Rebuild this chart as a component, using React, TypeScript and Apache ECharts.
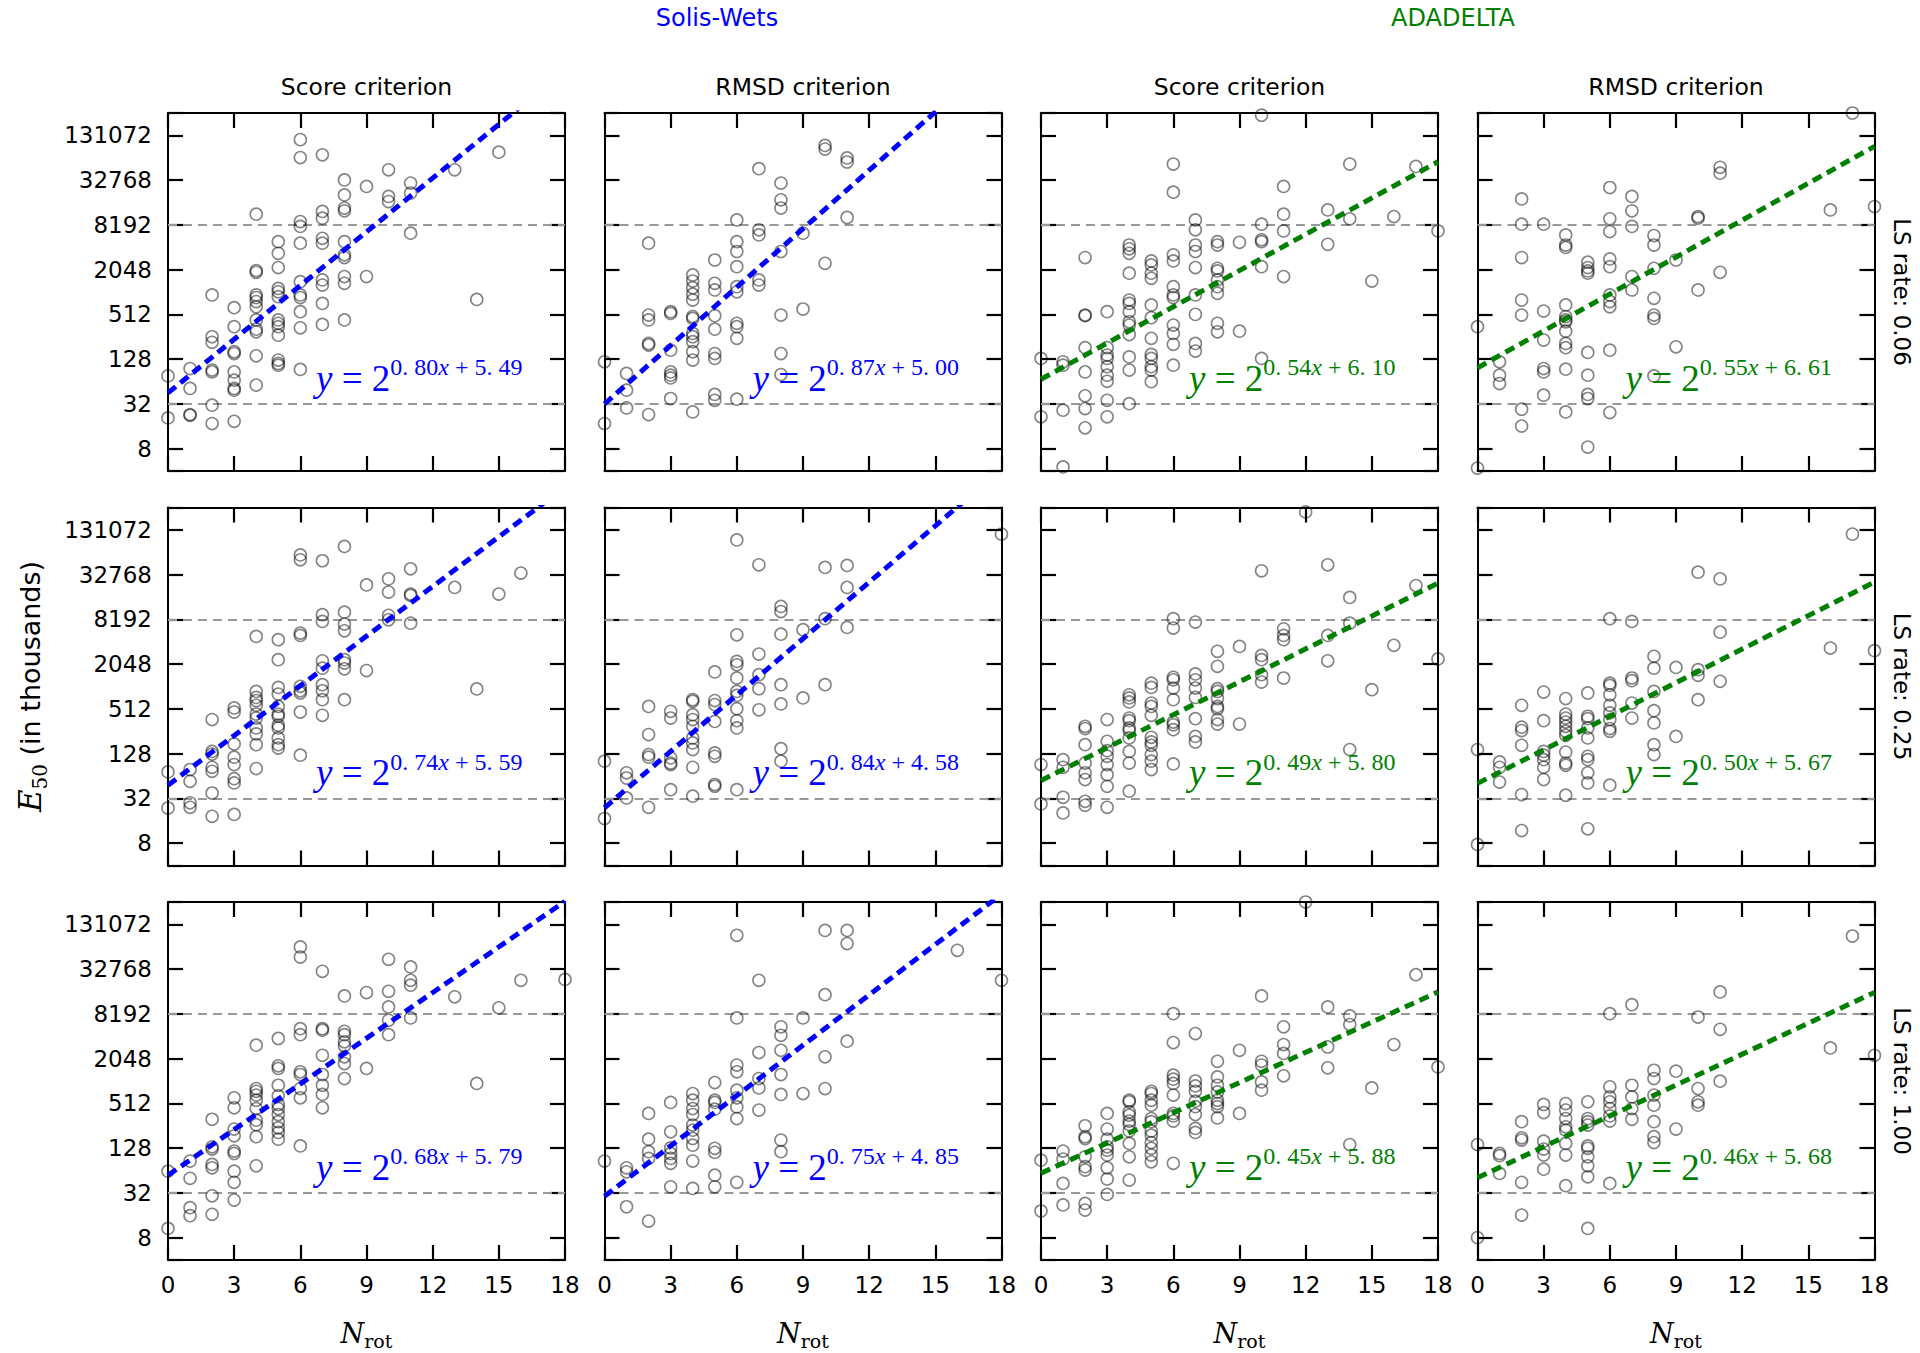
import React, { useEffect, useRef } from "react";
import * as echarts from "echarts";

// ---------- labels ----------
const methods = ["Solis-Wets", "ADADELTA"];
const methodColors = ["#0000ff", "#008000"];
const criteria = ["Score criterion", "RMSD criterion", "Score criterion", "RMSD criterion"];
const lsRates = ["LS rate: 0.06", "LS rate: 0.25", "LS rate: 1.00"];
const nrotTicks = [0, 3, 6, 9, 12, 15, 18];
const yTickLabels = [8, 32, 128, 512, 2048, 8192, 32768, 131072];
const refThresholds = [32, 8192];

// ---------- data: log2(E50 in thousands), indexed by N_rot (0..18) ----------
const swScore006 = [
  [6.25, 4.37], [6.58, 5.69, 4.49, 4.52], [9.87, 8.0, 7.75, 6.51, 6.43, 4.94, 4.12],
  [9.3, 8.45, 7.33, 7.25, 6.43, 6.06, 5.69, 5.61, 4.22],
  [13.48, 10.96, 10.88, 9.87, 9.75, 9.57, 9.34, 8.75, 8.34, 8.22, 7.15, 5.84],
  [12.25, 11.73, 11.09, 10.16, 10.01, 9.79, 8.75, 8.6, 8.45, 8.07, 6.96, 6.81, 6.73],
  [16.81, 16.01, 13.15, 12.93, 12.18, 10.46, 9.87, 9.75, 9.12, 8.4, 6.54],
  [16.13, 13.6, 13.3, 12.4, 12.18, 10.54, 10.31, 9.49, 8.55],
  [15.01, 14.34, 13.75, 13.63, 12.25, 11.66, 11.54, 10.69, 10.39, 8.75],
  [14.72, 10.69], [15.46, 14.27, 14.04], [14.87, 14.42, 12.63], [], [15.46], [9.67], [16.25], [], [], [],
];
const swRmsd006 = [
  [6.88, 4.12], [6.36, 5.61, 4.82], [12.18, 8.97, 8.75, 7.7, 7.63, 4.52],
  [9.12, 9.04, 7.4, 6.43, 6.28, 6.16, 5.24],
  [10.76, 10.49, 10.19, 9.9, 9.64, 8.9, 8.82, 8.15, 8.0, 7.78, 7.33, 6.96, 4.64],
  [11.43, 10.39, 10.09, 8.94, 8.34, 7.25, 7.03, 5.42, 5.16],
  [13.22, 12.25, 11.81, 11.13, 10.24, 10.01, 8.6, 8.45, 7.93, 5.21],
  [15.51, 12.78, 12.55, 10.54, 10.31],
  [14.87, 14.12, 13.75, 11.81, 8.97, 7.25, 6.31],
  [12.63, 9.24], [16.55, 16.39, 11.28], [15.99, 15.81, 13.33], [], [], [], [], [], [], [],
];
const adScore006 = [
  [7.03, 4.42], [6.88, 6.73, 4.72, 2.18], [11.54, 8.97, 8.94, 7.51, 6.43, 5.36, 4.79, 3.93],
  [9.12, 7.51, 7.18, 7.03, 6.66, 6.28, 6.01, 5.16, 4.42],
  [12.1, 11.93, 11.73, 10.84, 9.64, 9.49, 9.12, 8.67, 8.52, 8.1, 7.1, 6.51, 5.01],
  [11.39, 11.21, 10.84, 10.61, 9.42, 8.85, 7.93, 7.21, 7.03, 6.66, 6.51, 5.99],
  [15.72, 14.46, 11.66, 11.39, 10.24, 9.87, 9.75, 8.52, 8.15, 7.66, 6.73],
  [13.22, 12.78, 12.1, 11.81, 11.09, 9.87, 9.0, 7.7, 7.36],
  [12.25, 12.1, 11.06, 10.94, 10.54, 10.24, 9.94, 8.6, 8.22],
  [12.22, 8.25], [17.9, 13.03, 12.33, 12.25, 11.13, 7.03], [14.72, 13.48, 12.73, 10.69], [],
  [13.67, 12.13], [15.72, 13.27], [10.49], [13.37], [15.61], [12.73],
];
const adRmsd006 = [
  [8.45, 2.13], [6.88, 6.28, 5.91], [14.16, 13.03, 11.54, 9.64, 8.97, 4.76, 4.01],
  [13.03, 9.15, 7.85, 6.58, 6.43, 5.39],
  [12.55, 12.1, 11.99, 9.42, 8.9, 8.75, 8.67, 8.25, 7.7, 7.51, 6.55, 4.64],
  [11.33, 11.09, 10.94, 10.84, 7.3, 6.28, 5.42, 5.24, 3.07],
  [14.67, 13.27, 12.7, 11.48, 11.13, 9.87, 9.57, 9.34, 7.4, 4.61],
  [14.27, 13.63, 12.93, 10.69, 10.09],
  [12.52, 12.1, 11.06, 9.72, 8.97, 8.82, 6.25],
  [11.43, 7.55], [13.37, 13.3, 10.09], [15.57, 15.31, 10.88], [], [], [], [], [13.67], [18.0], [13.82],
];
const swScore025 = [
  [6.18, 4.57], [6.29, 5.76, 4.8, 4.6], [8.52, 7.1, 6.98, 6.39, 6.21, 5.24, 4.2],
  [9.04, 8.86, 7.43, 6.84, 6.51, 5.88, 5.69, 4.28],
  [12.24, 9.78, 9.51, 9.37, 9.16, 8.77, 8.59, 8.15, 7.88, 7.4, 6.33],
  [12.09, 11.2, 9.96, 9.66, 9.11, 8.77, 8.67, 8.27, 8.15, 7.7, 7.4, 7.25],
  [15.88, 15.66, 12.39, 12.28, 10.01, 9.81, 9.71, 8.86, 6.93],
  [15.62, 13.21, 12.91, 11.15, 10.82, 10.08, 9.81, 9.41, 8.71],
  [16.26, 13.32, 12.79, 12.49, 11.2, 11.05, 10.79, 9.41],
  [14.54, 10.71], [14.81, 14.22, 13.18, 12.98], [15.26, 14.13, 14.07, 12.83], [],
  [14.43], [9.89], [14.13], [15.07], [], [],
];
const swRmsd025 = [
  [6.66, 4.1], [6.14, 5.91, 5.02], [9.11, 7.85, 6.96, 6.84, 4.6],
  [8.89, 8.59, 6.81, 6.58, 6.51, 5.39],
  [9.41, 9.34, 8.74, 8.52, 8.22, 7.7, 7.48, 7.18, 6.39, 5.1],
  [10.65, 9.37, 9.19, 8.44, 7.03, 6.88, 5.62, 5.54],
  [16.55, 12.31, 11.12, 10.97, 10.38, 9.78, 9.6, 9.01, 8.47, 8.15, 5.39],
  [15.44, 11.45, 10.53, 9.9, 8.96],
  [13.58, 13.35, 12.34, 10.08, 9.22, 7.22, 6.66],
  [12.54, 9.49], [15.32, 13.03, 10.08], [15.41, 14.43, 12.64], [], [], [], [], [], [], [16.81],
];
const adScore025 = [
  [6.51, 4.75], [6.73, 6.39, 5.05, 4.35], [8.22, 8.12, 7.4, 6.58, 6.14, 5.84, 4.87, 4.69],
  [8.52, 7.55, 7.13, 6.88, 6.51, 6.06, 5.54, 4.6],
  [9.63, 9.49, 9.31, 8.59, 8.47, 8.15, 8.03, 7.7, 7.1, 6.58, 5.32],
  [10.15, 9.96, 9.26, 9.11, 8.71, 7.73, 7.52, 7.37, 6.96, 6.66, 6.29],
  [13.03, 12.61, 10.41, 10.3, 9.93, 9.41, 8.41, 8.29, 8.07, 6.54],
  [12.88, 10.56, 10.3, 9.93, 9.51, 8.56, 7.77, 7.52],
  [11.57, 10.9, 9.9, 9.78, 9.46, 9.11, 9.01, 8.52, 8.32],
  [11.79, 8.32], [15.17, 11.39, 11.2, 10.53, 10.2], [12.58, 12.28, 12.09, 10.38], [17.8],
  [15.44, 12.28, 11.15], [13.98, 12.83, 7.18], [9.86], [11.84], [14.51], [11.23],
];
const adRmsd025 = [
  [7.18, 2.94], [6.63, 6.39, 5.73], [9.16, 8.18, 8.03, 7.37, 5.17, 3.56],
  [9.75, 8.47, 7.1, 6.93, 6.73, 6.39, 5.84],
  [9.46, 8.77, 8.59, 8.41, 8.22, 8.0, 7.82, 7.07, 6.58, 6.48, 5.14],
  [9.71, 8.67, 8.56, 8.15, 7.7, 6.88, 6.73, 6.14, 5.69, 3.64],
  [13.03, 10.15, 10.05, 9.63, 9.16, 8.82, 8.52, 8.12, 8.0, 5.59],
  [12.91, 10.38, 10.26, 9.26, 8.59],
  [11.35, 10.82, 9.78, 8.92, 8.37, 7.4, 6.96],
  [10.85, 7.77], [15.11, 10.75, 10.5, 9.41], [14.81, 12.43, 10.23], [], [], [], [], [11.72], [16.81], [11.6],
];
const swScore100 = [
  [5.97, 3.41], [6.42, 5.65, 4.34, 3.98], [8.29, 7.06, 6.96, 6.27, 6.12, 4.87, 4.04],
  [9.25, 8.8, 7.85, 7.55, 6.87, 6.76, 5.97, 5.47, 4.68],
  [11.6, 9.66, 9.54, 9.37, 9.14, 8.77, 8.25, 8.05, 7.51, 6.21],
  [11.9, 10.68, 10.56, 9.81, 9.34, 8.95, 8.77, 8.5, 8.18, 7.91, 7.7, 7.4],
  [15.99, 15.54, 12.34, 12.07, 10.41, 10.29, 9.66, 9.25, 7.1],
  [14.9, 12.34, 12.27, 11.15, 10.29, 9.81, 9.4, 8.8],
  [13.8, 12.22, 12.07, 11.75, 11.57, 11.08, 10.78, 10.11],
  [13.95, 10.56], [15.44, 14.01, 13.31, 12.71, 12.07], [15.1, 14.5, 14.28, 12.82], [],
  [13.76], [9.89], [13.27], [14.5], [], [14.54],
];
const swRmsd100 = [
  [6.42], [6.12, 5.94, 4.38], [8.55, 7.4, 6.84, 6.54, 3.74],
  [9.04, 7.73, 7.01, 6.76, 6.54, 6.32, 5.27],
  [9.44, 9.14, 8.77, 8.5, 8.03, 7.8, 7.43, 7.13, 6.42, 5.2],
  [9.93, 9.14, 9.04, 8.74, 6.99, 6.81, 5.79, 5.27],
  [16.51, 12.82, 10.71, 10.41, 9.59, 9.25, 8.84, 8.32, 5.47],
  [14.5, 11.27, 10.11, 9.69, 8.7],
  [12.42, 12.04, 11.37, 10.29, 9.4, 7.36, 6.84],
  [12.82, 9.44], [16.73, 13.86, 11.08, 9.66], [16.73, 16.14, 11.78], [], [], [], [], [15.84], [], [14.5],
];
const adScore100 = [
  [6.46, 4.19], [6.87, 6.51, 5.42, 4.46], [8.0, 7.51, 7.43, 6.61, 6.17, 6.02, 4.53, 4.23],
  [8.55, 7.85, 7.4, 7.06, 6.91, 6.69, 6.12, 5.62, 4.93],
  [9.14, 9.07, 8.62, 8.47, 8.21, 8.06, 7.76, 7.21, 6.61, 5.57],
  [9.54, 9.44, 9.14, 8.92, 8.32, 8.18, 7.76, 7.58, 7.25, 6.99, 6.69, 6.39],
  [13.01, 11.72, 10.26, 10.08, 9.89, 9.37, 8.55, 8.44, 8.21, 6.32],
  [12.12, 10.0, 9.78, 9.54, 9.1, 8.85, 8.5, 7.88, 7.7],
  [10.88, 10.18, 9.81, 9.51, 9.14, 8.99, 8.85, 8.35],
  [11.37, 8.55], [13.8, 10.88, 10.71, 9.96, 9.59], [12.42, 11.63, 11.23, 10.23], [18.0],
  [13.31, 11.52, 10.59], [12.91, 12.52, 7.16], [9.69], [11.63], [14.75], [10.63],
];
const adRmsd100 = [
  [7.16, 3.0], [6.76, 6.66, 5.87], [8.18, 7.46, 7.36, 5.47, 4.01],
  [8.95, 8.59, 7.31, 6.96, 6.69, 6.06],
  [8.99, 8.7, 8.32, 7.95, 7.8, 7.21, 6.69, 5.32],
  [9.07, 8.32, 8.18, 8.03, 7.1, 6.99, 6.61, 6.21, 5.72, 3.41],
  [13.01, 9.74, 9.29, 9.07, 8.77, 8.44, 8.21, 5.42],
  [13.41, 9.81, 9.29, 8.77, 8.29],
  [10.48, 10.11, 9.37, 8.92, 8.18, 7.51, 7.25],
  [10.44, 7.85], [12.86, 9.66, 9.07, 8.92], [13.98, 12.31, 9.99], [], [], [], [], [11.48], [16.48], [11.15],
];

// fitted exponent y = 2^(slope * x + intercept), per row (LS rate) and column
const fitSlopes = [
  [0.8, 0.87, 0.54, 0.55],
  [0.74, 0.84, 0.49, 0.5],
  [0.68, 0.75, 0.45, 0.46],
];
const fitIntercepts = [
  [5.49, 5.0, 6.1, 6.61],
  [5.59, 4.58, 5.8, 5.67],
  [5.79, 4.85, 5.88, 5.68],
];

const panelData = [
  [swScore006, swRmsd006, adScore006, adRmsd006],
  [swScore025, swRmsd025, adScore025, adRmsd025],
  [swScore100, swRmsd100, adScore100, adRmsd100],
];

// ---------- layout ----------
const LEFTS = [168, 604.5, 1041, 1477.5];
const TOPS = [113, 507.5, 902];
const PW = 397;
const PH = 358;
const TICK_LEN = 15;
// axis value = log2(E50) - SHIFT so that ECharts' nice ticks fall on odd powers of two
const SHIFT = 1;
const SANS = "DejaVu Sans";
const SERIF = "Liberation Serif";
const SERIF2 = "DejaVu Serif";
const X_MIN = nrotTicks[0];
const X_MAX = nrotTicks[nrotTicks.length - 1];
const Y_MIN = Math.log2(4) - SHIFT;
const Y_MAX = Math.log2(262144) - SHIFT;

// mathtext-like rendering of "0.80" -> "0. 80"
const mathNum = (v: number) => v.toFixed(2).replace(".", ". ");

function buildOption() {
  const grid: any[] = [];
  const xAxis: any[] = [];
  const yAxis: any[] = [];
  const series: any[] = [];
  const graphic: any[] = [];
  const mkAxisLine = () => ({ show: true, onZero: false, lineStyle: { color: "#000", width: 2 } });
  const mkAxisTick = () => ({ show: true, inside: true, length: TICK_LEN, lineStyle: { color: "#000", width: 2.2 } });
  const fmtY = (v: number) => {
    const p = Math.pow(2, Math.round(v + SHIFT));
    return yTickLabels.includes(p) ? String(p) : "";
  };

  for (let r = 0; r < 3; r++) {
    for (let c = 0; c < 4; c++) {
      const k = r * 4 + c;
      grid.push({ left: LEFTS[c], top: TOPS[r], width: PW, height: PH, containLabel: false });
      ["bottom", "top"].forEach((pos) => {
        xAxis.push({
          gridIndex: k, type: "value", min: X_MIN, max: X_MAX,
          interval: nrotTicks[1] - nrotTicks[0], position: pos,
          axisLine: mkAxisLine(), axisTick: mkAxisTick(),
          splitLine: { show: false },
          axisLabel: {
            show: pos === "bottom" && r === 2, fontSize: 23, color: "#000", margin: 13, fontFamily: SANS,
          },
        });
      });
      ["left", "right"].forEach((pos) => {
        yAxis.push({
          gridIndex: k, type: "value", min: Y_MIN, max: Y_MAX, splitNumber: 8,
          position: pos, axisLine: mkAxisLine(), axisTick: mkAxisTick(), splitLine: { show: false },
          axisLabel: {
            show: pos === "left" && c === 0, fontSize: 23, color: "#000", margin: 16,
            fontFamily: SANS, formatter: fmtY,
          },
        });
      });
      const pts = panelData[r][c].flatMap((vals, n) => vals.map((v) => [n, v - SHIFT]));
      const color = methodColors[c < 2 ? 0 : 1];
      series.push({
        type: "scatter", xAxisIndex: 2 * k, yAxisIndex: 2 * k, data: pts, symbol: "circle",
        symbolSize: 12, clip: true, silent: true, z: 3,
        itemStyle: { color: "rgba(0,0,0,0)", borderColor: "rgba(0,0,0,0.6)", borderWidth: 1.6 },
        markLine: {
          silent: true, symbol: "none", label: { show: false }, z: 2,
          lineStyle: { color: "#999999", type: [9, 6], width: 2 },
          data: refThresholds.map((t) => ({ yAxis: Math.log2(t) - SHIFT })),
        },
      });
      const a = fitSlopes[r][c];
      const b = fitIntercepts[r][c];
      series.push({
        type: "line", xAxisIndex: 2 * k, yAxisIndex: 2 * k, symbol: "none", clip: true, silent: true,
        z: 4,
        data: [[X_MIN, a * X_MIN + b - SHIFT], [X_MAX, a * X_MAX + b - SHIFT]],
        lineStyle: { color, width: 5, type: [10, 6], cap: "butt" },
      });
      graphic.push({
        type: "text", x: LEFTS[c] + 148, y: TOPS[r] + 242, z: 10, silent: true,
        style: {
          text: `{mi|y}{m| = 2}{p|${mathNum(a)}}{pi|x}{p| + ${mathNum(b)}}`,
          align: "left", verticalAlign: "top", fill: color,
          rich: {
            mi: { fontFamily: SERIF, fontStyle: "italic", fontSize: 37, lineHeight: 46, fill: color },
            m: { fontFamily: SERIF, fontSize: 37, lineHeight: 46, fill: color },
            p: { fontFamily: SERIF, fontSize: 24, lineHeight: 24, verticalAlign: "top", fill: color },
            pi: { fontFamily: SERIF, fontStyle: "italic", fontSize: 24, lineHeight: 24, verticalAlign: "top", fill: color },
          },
        },
      });
    }
  }

  // column titles, N_rot labels
  for (let c = 0; c < 4; c++) {
    const cx = LEFTS[c] + PW / 2;
    graphic.push({
      type: "text", x: cx, y: 87, silent: true,
      style: { text: criteria[c], fontFamily: SANS, fontSize: 23.5, fill: "#000", align: "center", verticalAlign: "middle" },
    });
    graphic.push({
      type: "text", x: cx, y: 1333, silent: true,
      style: {
        text: "{n|N}{s|rot}", align: "center", verticalAlign: "middle",
        rich: {
          n: { fontFamily: SERIF2, fontStyle: "italic", fontSize: 27, lineHeight: 34, fill: "#000" },
          s: { fontFamily: SERIF2, fontSize: 19, lineHeight: 19, verticalAlign: "bottom", fill: "#000" },
        },
      },
    });
  }
  const methodX = [717, 1453];
  methods.forEach((m, i) => {
    graphic.push({
      type: "text", x: methodX[i], y: 18, silent: true,
      style: { text: m, fontFamily: SANS, fontSize: 24, fill: methodColors[i], align: "center", verticalAlign: "middle" },
    });
  });
  lsRates.forEach((t, r) => {
    graphic.push({
      type: "text", x: 1902, y: TOPS[r] + PH / 2, rotation: -Math.PI / 2, silent: true,
      style: { text: t, fontFamily: SANS, fontSize: 23, fill: "#000", align: "center", verticalAlign: "middle" },
    });
  });
  graphic.push({
    type: "text", x: 30, y: (TOPS[0] + TOPS[2] + PH) / 2, rotation: Math.PI / 2, silent: true,
    style: {
      text: "{e|E}{s|50}{t| (in thousands)}", align: "center", verticalAlign: "middle",
      rich: {
        e: { fontFamily: SERIF2, fontStyle: "italic", fontSize: 31, lineHeight: 40, fill: "#000" },
        s: { fontFamily: SERIF2, fontSize: 20, lineHeight: 20, verticalAlign: "bottom", fill: "#000" },
        t: { fontFamily: SANS, fontSize: 27, lineHeight: 40, fill: "#000" },
      },
    },
  });

  return {
    animation: false,
    backgroundColor: "#ffffff",
    textStyle: { fontFamily: SANS },
    grid, xAxis, yAxis, series, graphic,
  };
}

export default function App() {
  const ref = useRef<HTMLDivElement>(null);
  useEffect(() => {
    if (!ref.current) return;
    const chart = echarts.init(ref.current, null, { renderer: "svg" });
    chart.setOption(buildOption());
    return () => chart.dispose();
  }, []);
  return (
    <div
      ref={ref}
      style={{ position: "absolute", left: 0, top: 0, width: 1920, height: 1353, background: "#fff" }}
    />
  );
}
